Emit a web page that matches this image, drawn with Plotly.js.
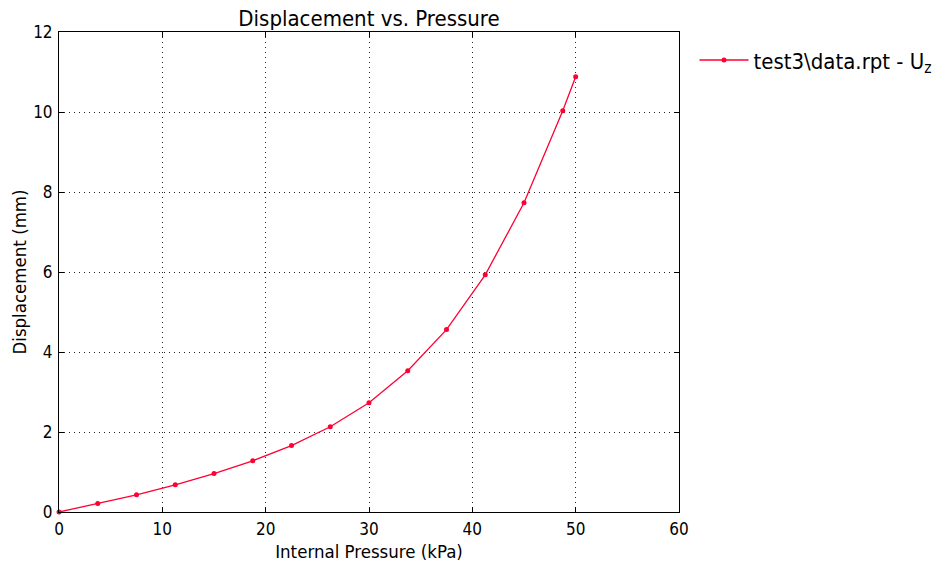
<!DOCTYPE html>
<html>
<head>
<meta charset="utf-8">
<script src="https://cdn.plot.ly/plotly-3.0.1.min.js"></script>
<style>
  html, body { margin: 0; padding: 0; background: #fff; }
  #chart { width: 951px; height: 570px; }
</style>
</head>
<body>
<div id="chart"></div>
<script>
// Internal pressure steps (kPa) and axial displacement U_z (mm)
const pressure = [0, 3.75, 7.5, 11.25, 15, 18.75, 22.5, 26.25, 30, 33.75, 37.5, 41.25, 45, 48.75, 50];
const displacement = [0, 0.21, 0.43, 0.68, 0.96, 1.28, 1.66, 2.13, 2.73, 3.53, 4.56, 5.93, 7.73, 10.03, 10.88];
const seriesName = 'test3\\data.rpt - U<sub>z</sub>';

const xTicks = [0, 10, 20, 30, 40, 50, 60];
const yTicks = [0, 2, 4, 6, 8, 10, 12];

const font = '"DejaVu Sans Condensed", "DejaVu Sans", sans-serif';
const red = '#ff0033';

const trace = {
  x: pressure,
  y: displacement,
  name: seriesName,
  type: 'scatter',
  mode: 'lines+markers',
  line: { color: red, width: 1.3 },
  marker: { color: red, size: 5, symbol: 'circle' },
  cliponaxis: false
};

const axisBase = {
  showline: true,
  linecolor: '#000',
  linewidth: 1,
  mirror: 'ticks',
  ticks: 'inside',
  ticklen: 5,
  tickwidth: 1,
  tickcolor: '#000',
  showgrid: true,
  gridcolor: '#222',
  gridwidth: 1,
  griddash: '1px,4px',
  zeroline: false,
  tickfont: { family: font, size: 17, color: '#000' }
};

const layout = {
  width: 951,
  height: 570,
  paper_bgcolor: '#fff',
  plot_bgcolor: '#fff',
  margin: { l: 59, r: 272, t: 32, b: 58 },
  font: { family: font, color: '#000' },
  title: {
    text: 'Displacement vs. Pressure',
    font: { family: font, size: 22, color: '#000' },
    xref: 'paper', x: 0.5, xanchor: 'center',
    yref: 'container', y: 0.968, yanchor: 'middle'
  },
  xaxis: Object.assign({}, axisBase, {
    range: [0, 60],
    tickvals: xTicks,
    ticktext: xTicks.map(String),
    ticklabelstandoff: 2,
    title: { text: 'Internal Pressure (kPa)', font: { family: font, size: 18.5, color: '#000' }, standoff: 6 }
  }),
  yaxis: Object.assign({}, axisBase, {
    range: [0, 12],
    tickvals: yTicks,
    ticktext: yTicks.map(String),
    ticklabelstandoff: 2,
    title: { text: 'Displacement (mm)', font: { family: font, size: 18.5, color: '#000' }, standoff: 1 }
  }),
  showlegend: true,
  legend: {
    x: 1.025, xanchor: 'left',
    y: 0.985, yanchor: 'top',
    bgcolor: 'rgba(0,0,0,0)',
    borderwidth: 0,
    itemwidth: 49,
    font: { family: font, size: 22, color: '#000' }
  }
};

Plotly.newPlot('chart', [trace], layout, { displayModeBar: false, staticPlot: true });
</script>
</body>
</html>
